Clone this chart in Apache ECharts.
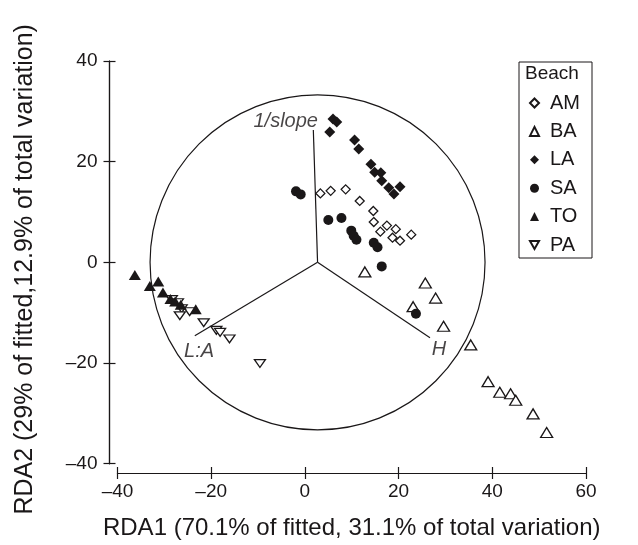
<!DOCTYPE html>
<html>
<head>
<meta charset="utf-8">
<script src="https://cdn.jsdelivr.net/npm/echarts@6/dist/echarts.min.js"></script>
<style>
  html, body { margin: 0; padding: 0; background: #fff; }
  #rda { width: 638px; height: 545px; }
</style>
</head>
<body>
<div id="rda"></div>
<script>
// beach codes, in legend order
const beaches = ["AM", "BA", "LA", "SA", "TO", "PA"];

// site scores [RDA1, RDA2]
const am = [[3.3, 13.7], [5.5, 14.2], [8.7, 14.5], [11.7, 12.2], [14.6, 10.2], [14.7, 8.0],
  [16.1, 6.1], [17.5, 7.3], [19.4, 6.6], [18.7, 4.9], [20.3, 4.3], [22.7, 5.5]];
const ba = [[12.8, -1.9], [23.1, -8.8], [25.7, -4.1], [27.9, -7.1], [29.6, -12.7], [35.4, -16.4],
  [39.1, -23.7], [41.6, -25.8], [43.9, -26.1], [45.0, -27.4], [48.7, -30.1], [51.6, -33.8]];
const la = [[6.0, 28.5], [6.8, 27.9], [5.3, 25.9], [10.6, 24.3], [11.5, 22.5], [14.1, 19.5],
  [14.9, 17.9], [16.2, 17.8], [16.4, 16.2], [17.9, 14.8], [19.0, 13.6], [20.3, 15.0]];
const sa = [[-1.9, 14.1], [-0.9, 13.5], [5.0, 8.4], [7.8, 8.8], [9.9, 6.3], [10.4, 5.3],
  [11.0, 4.5], [14.7, 3.9], [15.5, 3.0], [16.4, -0.8], [23.7, -10.2]];
const to = [[-36.3, -2.5], [-33.1, -4.7], [-31.3, -3.8], [-30.3, -6.0], [-28.7, -7.3],
  [-27.7, -7.8], [-26.5, -8.4], [-23.3, -9.3]];
const pa = [[-28.4, -7.4], [-27.1, -8.0], [-26.3, -9.2], [-24.6, -9.8], [-26.7, -10.6],
  [-21.6, -12.0], [-18.9, -13.5], [-18.1, -13.9], [-16.1, -15.2], [-9.6, -20.1]];

// explanatory variables (biplot arrows) and the circle
const vectorNames = ["1/slope", "H", "L:A"];
const vectorOrigin = [2.7, 0];
const vectorEnds = [[1.8, 26.3], [26.7, -15.0], [-23.5, -14.6]];
const vectorLabelAt = [[-4.1, 27.9], [28.6, -17.4], [-22.6, -17.7]];
const circle = [[2.7, 0, 35.75]];

const xRange = [-40, 60];
const yRange = [-40, 40];
const tickStep = 20;

const ink = "#1a1718";
const font = "Liberation Sans";
const downTriangle = "path://M0,0L10,0L5,8.66Z";

const chartDom = document.getElementById("rda");
const myChart = echarts.init(chartDom);

const fmt = (v) => String(v).replace("-", "\u2013");

function makeAxis(dim, inside) {
  const isX = dim === "x";
  return {
    type: "value",
    position: isX ? "bottom" : "left",
    offset: isX ? 9.3 : 8,
    min: isX ? xRange[0] : yRange[0],
    max: isX ? xRange[1] : yRange[1],
    interval: tickStep,
    splitLine: { show: false },
    axisLine: { show: true, onZero: false, lineStyle: { color: ink, width: 1.2 } },
    axisTick: { show: true, inside: inside, length: 6, lineStyle: { color: ink, width: 1.2 } },
    axisLabel: {
      show: !inside,
      formatter: fmt,
      color: ink,
      fontFamily: font,
      fontSize: 19,
      margin: isX ? 9 : 12,
    },
    name: inside ? "" : (isX
      ? "RDA1 (70.1% of fitted, 31.1% of total variation)"
      : "RDA2 (29% of fitted,12.9% of total variation)"),
    nameLocation: "middle",
    nameGap: isX ? 43 : 72,
    nameTextStyle: isX
      ? { color: ink, fontFamily: font, fontSize: 24 }
      : { color: ink, fontFamily: font, fontSize: 25, padding: [0, 14, 0, 0] },
  };
}

const hollow = { color: "#fff", borderColor: ink, borderWidth: 1.3, opacity: 1 };
const filled = { color: ink, borderColor: ink, borderWidth: 0, opacity: 1 };

function beachSeries(name, data, symbol, size, style) {
  return {
    name: name,
    type: "scatter",
    data: data,
    symbol: symbol,
    symbolSize: size,
    symbolKeepAspect: true,
    itemStyle: style,
    z: 5,
  };
}

const vectorSeries = vectorEnds.map((end, i) => ({
  name: vectorNames[i],
  type: "line",
  data: [vectorOrigin, end],
  symbol: "none",
  silent: true,
  lineStyle: { color: ink, width: 1.2 },
  z: 3,
}));

const options = {
  animation: false,
  backgroundColor: "#fff",
  grid: { left: 117.5, right: 52, top: 61, bottom: 81 },
  xAxis: [makeAxis("x", false), makeAxis("x", true)],
  yAxis: [makeAxis("y", false), makeAxis("y", true)],
  title: {
    text: "Beach",
    left: 525,
    top: 64,
    padding: 0,
    textStyle: { color: ink, fontFamily: font, fontSize: 19, fontWeight: "normal" },
  },
  legend: {
    data: beaches,
    orient: "vertical",
    left: 519,
    top: 62,
    padding: [31, 12, 3, 10],
    itemGap: 8.4,
    itemWidth: 9,
    itemHeight: 9,
    borderColor: ink,
    borderWidth: 1,
    selectedMode: false,
    textStyle: { color: ink, fontFamily: font, fontSize: 20, padding: [0, 0, 0, 6] },
  },
  series: [
    {
      type: "custom",
      data: circle,
      silent: true,
      z: 2,
      renderItem: function (params, api) {
        const c = api.coord([api.value(0), api.value(1)]);
        const r = api.size([api.value(2), 0])[0];
        return {
          type: "circle",
          shape: { cx: c[0], cy: c[1], r: r },
          style: { fill: "none", stroke: ink, lineWidth: 1.2 },
        };
      },
    },
    ...vectorSeries,
    {
      type: "scatter",
      data: vectorLabelAt.map((p, i) => ({ value: p, name: vectorNames[i] })),
      symbolSize: 1,
      silent: true,
      itemStyle: { color: "transparent" },
      label: {
        show: true,
        position: "inside",
        formatter: "{b}",
        color: ink,
        fontFamily: font,
        fontStyle: "italic",
        fontSize: 20,
      },
      z: 4,
    },
    beachSeries("AM", am, "diamond", 9, hollow),
    beachSeries("BA", ba, "triangle", [12, 10], hollow),
    beachSeries("LA", la, "diamond", 11, filled),
    beachSeries("SA", sa, "circle", 10, filled),
    beachSeries("PA", pa, downTriangle, [11, 9], hollow),
    beachSeries("TO", to, "triangle", [12, 10], filled),
  ],
};

myChart.setOption(options);
</script>
</body>
</html>
